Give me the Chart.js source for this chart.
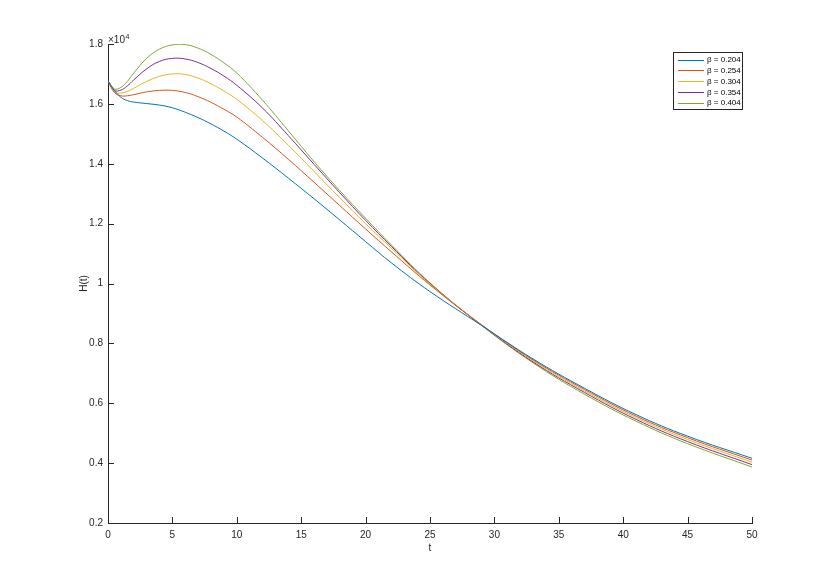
<!DOCTYPE html>
<html>
<head>
<meta charset="utf-8">
<script src="https://cdn.jsdelivr.net/npm/chart.js@4/dist/chart.umd.min.js"></script>
<style>
  html, body { margin: 0; padding: 0; background: #fff; }
  canvas { display: block; }
</style>
</head>
<body>
<canvas id="grafico" width="830" height="588"></canvas>
<script>
// ---- data (H in absolute units, axis shows x10^4) ----
const tempo = [0, 0.5, 1, 1.5, 2, 3, 4, 5, 6, 7, 8, 9, 10, 12, 14, 16, 18, 20, 22, 25, 29, 33, 37, 41, 45, 50];

const h204 = [16770, 16450, 16220, 16110, 16060, 16010, 15960, 15870, 15720, 15540, 15330, 15090, 14820,
              14190, 13520, 12830, 12120, 11400, 10690, 9730, 8600, 7480, 6500, 5620, 4900, 4160];
const h254 = [16770, 16380, 16270, 16270, 16310, 16400, 16450, 16450, 16380, 16240, 16050, 15820, 15560,
              14880, 14150, 13380, 12600, 11820, 11060, 9950, 8620, 7450, 6460, 5570, 4850, 4100];
const h304 = [16770, 16400, 16360, 16420, 16520, 16750, 16920, 17000, 16980, 16860, 16670, 16430, 16150,
              15440, 14620, 13740, 12860, 12000, 11180, 9980, 8620, 7420, 6410, 5520, 4790, 4030];
const h354 = [16770, 16450, 16460, 16600, 16800, 17170, 17420, 17520, 17500, 17380, 17180, 16930, 16620,
              15860, 14940, 13980, 13030, 12110, 11240, 10000, 8610, 7380, 6360, 5460, 4720, 3950];
const h404 = [16770, 16500, 16550, 16750, 17030, 17520, 17830, 17970, 17980, 17860, 17650, 17370, 17030,
              16120, 15100, 14070, 13100, 12180, 11290, 10020, 8600, 7350, 6300, 5400, 4650, 3870];

const rotulos = ["β = 0.204", "β = 0.254", "β = 0.304", "β = 0.354", "β = 0.404"];
const series = [h204, h254, h304, h354, h404];
const cores = ["#0072BD", "#D95319", "#EDB120", "#7E2F8E", "#77AC30"];

const ticksX = [0, 5, 10, 15, 20, 25, 30, 35, 40, 45, 50];
const ticksY = [2000, 4000, 6000, 8000, 10000, 12000, 14000, 16000, 18000];

const corEixo = "#262626";
const fonte = "'Liberation Sans', Arial, Helvetica, sans-serif";

// ticks para dentro, fator x10^4 e legenda no estilo MATLAB
const estiloMatlab = {
  id: "estiloMatlab",
  afterDraw(chart) {
    const ctx = chart.ctx;
    const sx = chart.scales.x, sy = chart.scales.y;
    const a = chart.chartArea;
    ctx.save();
    ctx.strokeStyle = corEixo;
    ctx.lineWidth = 1;
    ctx.beginPath();
    ticksX.forEach(v => {
      const px = Math.round(sx.getPixelForValue(v)) + 0.5;
      ctx.moveTo(px, a.bottom);
      ctx.lineTo(px, a.bottom - 6);
    });
    ticksY.forEach(v => {
      const py = Math.round(sy.getPixelForValue(v)) + 0.5;
      ctx.moveTo(a.left, py);
      ctx.lineTo(a.left + 6, py);
    });
    ctx.stroke();

    // fator do eixo y
    ctx.fillStyle = corEixo;
    ctx.textBaseline = "alphabetic";
    ctx.textAlign = "left";
    ctx.font = "10px " + fonte;
    ctx.fillText("×10", a.left, a.top - 1);
    const w = ctx.measureText("×10").width;
    ctx.font = "7px " + fonte;
    ctx.fillText("4", a.left + w + 0.5, a.top - 5);

    // legenda
    const bx = 673.5, by = 52.5, bw = 69, bh = 57;
    ctx.fillStyle = "#fff";
    ctx.fillRect(bx, by, bw, bh);
    ctx.strokeStyle = corEixo;
    ctx.strokeRect(bx, by, bw, bh);
    ctx.font = "8px " + fonte;
    ctx.textBaseline = "middle";
    chart.data.datasets.forEach((ds, i) => {
      const y = 59.5 + i * 10.8;
      ctx.strokeStyle = ds.borderColor;
      ctx.beginPath();
      ctx.moveTo(678, Math.round(y) + 0.5);
      ctx.lineTo(704, Math.round(y) + 0.5);
      ctx.stroke();
      ctx.fillStyle = "#000";
      ctx.fillText(ds.label, 707, y + 0.5);
    });
    ctx.restore();
  }
};

new Chart(document.getElementById("grafico"), {
  type: "line",
  data: {
    datasets: series.map((s, i) => ({
      label: rotulos[i],
      data: tempo.map((t, j) => ({ x: t, y: s[j] })),
      borderColor: cores[i],
      backgroundColor: cores[i],
      borderWidth: 1,
      pointRadius: 0,
      tension: 0.4,
      fill: false
    }))
  },
  options: {
    responsive: false,
    animation: false,
    layout: { padding: { left: 0, top: 44, right: 78, bottom: 0 } },
    plugins: {
      legend: { display: false },
      tooltip: { enabled: false }
    },
    scales: {
      x: {
        type: "linear",
        min: 0,
        max: 50,
        afterBuildTicks: s => { s.ticks = ticksX.map(v => ({ value: v })); },
        afterFit: s => { s.height = 65; },
        grid: { drawOnChartArea: false, drawTicks: false },
        border: { color: corEixo, width: 1 },
        ticks: { color: corEixo, padding: 6, maxRotation: 0, font: { family: fonte, size: 10 } },
        title: { display: true, text: "t", color: corEixo, font: { family: fonte, size: 10 }, padding: { top: 0, bottom: 34 } }
      },
      y: {
        type: "linear",
        min: 2000,
        max: 18000,
        afterBuildTicks: s => { s.ticks = ticksY.map(v => ({ value: v })); },
        afterFit: s => { s.width = 108; },
        grid: { drawOnChartArea: false, drawTicks: false },
        border: { color: corEixo, width: 1 },
        ticks: {
          color: corEixo,
          padding: 5,
          font: { family: fonte, size: 10 },
          callback: v => String(Math.round(v / 1000) / 10)
        },
        title: { display: true, text: "H(t)", color: corEixo, font: { family: fonte, size: 10 }, padding: { top: 78, bottom: 0 } }
      }
    }
  },
  plugins: [estiloMatlab]
});
</script>
</body>
</html>
